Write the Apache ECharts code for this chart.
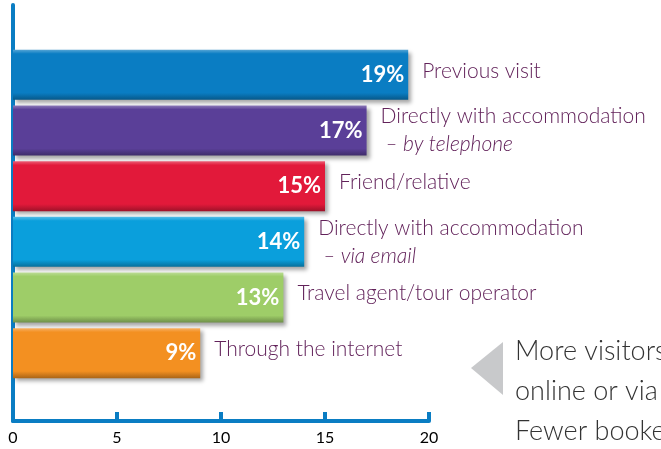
<!DOCTYPE html>
<html>
<head>
<meta charset="utf-8">
<script src="https://cdn.jsdelivr.net/npm/echarts@6/dist/echarts.min.js"></script>
<style>
  html, body { margin: 0; padding: 0; background: #fff; }
  #chart { width: 661px; height: 449px; }
</style>
</head>
<body>
<div id="chart"></div>
<script>
// booking methods, top to bottom
var categories = [
  "Previous visit",
  "Directly with accommodation|– by telephone",
  "Friend/relative",
  "Directly with accommodation|– via email",
  "Travel agent/tour operator",
  "Through the internet"
];
var shares = [19, 17, 15, 14, 13, 9];
var barColors = ["#0a7dc3", "#5a3f98", "#e2193a", "#0a9fdc", "#9ecd68", "#f39021"];
var tickValues = [0, 5, 10, 15, 20];

var AXIS_BLUE = "#0a7dc3";
var TEXT_PURPLE = "#62225a";

function shade(hex, amt) {
  var n = parseInt(hex.slice(1), 16);
  var r = (n >> 16) & 255, g = (n >> 8) & 255, b = n & 255;
  function f(c) {
    c = amt > 0 ? c + (255 - c) * amt : c * (1 + amt);
    return Math.round(Math.max(0, Math.min(255, c)));
  }
  return "rgb(" + f(r) + "," + f(g) + "," + f(b) + ")";
}

var barData = shares.map(function (v, i) {
  var c = barColors[i];
  return {
    value: v,
    itemStyle: {
      color: {
        type: "linear", x: 0, y: 0, x2: 0, y2: 1,
        colorStops: [
          { offset: 0, color: shade(c, 0.3) },
          { offset: 0.08, color: c },
          { offset: 0.86, color: c },
          { offset: 1, color: shade(c, -0.3) }
        ]
      },
      shadowColor: "rgba(0,0,0,0.35)",
      shadowBlur: 4,
      shadowOffsetX: 3,
      shadowOffsetY: 3
    }
  };
});

var chart = echarts.init(document.getElementById("chart"));
chart.setOption({
  animation: false,
  textStyle: { fontFamily: "Lato" },
  grid: [
    { left: 13, right: 232, top: 47, bottom: 68 },
    { left: 13, right: 232, top: 5, bottom: 28 }
  ],
  xAxis: [
    {
      gridIndex: 0, type: "value", min: 0, max: 20, interval: 5,
      show: false
    },
    {
      gridIndex: 1, type: "value", min: 0, max: 20, interval: 5,
      axisLine: { show: true, lineStyle: { color: AXIS_BLUE, width: 4 } },
      axisTick: { show: true, inside: true, length: 9, lineStyle: { color: AXIS_BLUE, width: 4 } },
      splitLine: { show: false },
      axisLabel: {
        color: "#000", fontSize: 16, margin: 9,
        formatter: function (v) { return tickValues.indexOf(v) >= 0 ? String(v) : ""; }
      }
    }
  ],
  yAxis: [
    {
      gridIndex: 0, type: "category", data: categories, inverse: true,
      show: false
    },
    {
      gridIndex: 1, type: "value", min: 0, max: 1,
      axisLine: { show: true, lineStyle: { color: AXIS_BLUE, width: 4 } },
      axisTick: { show: false },
      axisLabel: { show: false },
      splitLine: { show: false }
    }
  ],
  series: [
    {
      type: "bar",
      xAxisIndex: 0, yAxisIndex: 0,
      barWidth: 50,
      data: barData,
      label: {
        show: true,
        position: "insideRight",
        distance: 4,
        color: "#fff",
        fontWeight: "bold",
        fontSize: 22,
        formatter: "{c}%"
      },
      z: 2
    },
    {
      type: "bar",
      xAxisIndex: 0, yAxisIndex: 0,
      barWidth: 50,
      barGap: "-100%",
      data: shares,
      itemStyle: { color: "rgba(0,0,0,0)" },
      label: {
        show: true,
        position: "right",
        distance: 14,
        formatter: function (p) {
          var parts = categories[p.dataIndex].split("|");
          if (parts.length === 1) return "{o|" + parts[0] + "}";
          return "{m|" + parts[0] + "}\n{s|" + parts[1] + "}";
        },
        rich: {
          o: { color: TEXT_PURPLE, fontSize: 21, fontWeight: 300, fontFamily: "Lato", lineHeight: 28, padding: [0, 0, 8, 0] },
          m: { color: TEXT_PURPLE, fontSize: 21, fontWeight: 300, fontFamily: "Lato", lineHeight: 28 },
          s: { color: TEXT_PURPLE, fontSize: 21, fontWeight: 300, fontFamily: "Lato", fontStyle: "italic", lineHeight: 28, padding: [0, 0, 0, 5] }
        }
      },
      z: 3
    }
  ],
  graphic: [
    {
      type: "polygon",
      shape: { points: [[471, 368], [503, 342], [503, 395]] },
      style: { fill: "#c8c9cb" }
    },
    {
      type: "text", left: 515, top: 338,
      style: { text: "More visitors", fill: "#333", font: "300 27px Lato" }
    },
    {
      type: "text", left: 515, top: 378,
      style: { text: "online or via", fill: "#333", font: "300 27px Lato" }
    },
    {
      type: "text", left: 515, top: 418,
      style: { text: "Fewer booke", fill: "#333", font: "300 27px Lato" }
    }
  ]
});
</script>
</body>
</html>
